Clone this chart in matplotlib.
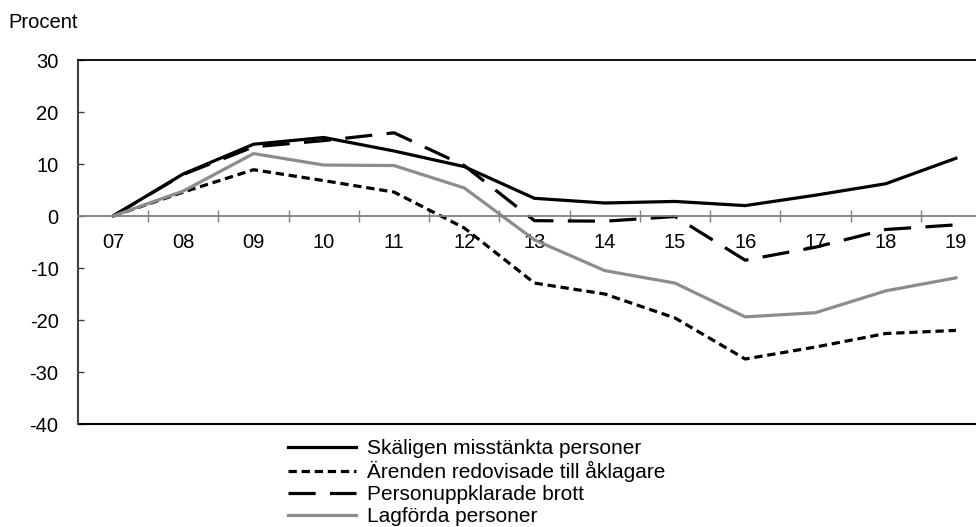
import matplotlib
matplotlib.use("Agg")
import matplotlib.pyplot as plt
import numpy as np

years = ["07", "08", "09", "10", "11", "12", "13", "14", "15", "16", "17", "18", "19"]
skaligen = [0, 8.1, 13.8, 15.1, 12.5, 9.5, 3.4, 2.5, 2.8, 2.0, 4.0, 6.2, 11.1]
arenden = [0, 4.6, 8.9, 6.8, 4.6, -2.3, -12.9, -15.0, -19.6, -27.5, -25.2, -22.6, -22.0]
personupp = [0, 8.0, 13.3, 14.5, 16.0, 9.7, -0.9, -1.0, -0.1, -8.5, -6.0, -2.6, -1.7]
lagforda = [0, 4.8, 12.0, 9.8, 9.7, 5.4, -4.6, -10.5, -12.9, -19.4, -18.6, -14.4, -11.9]
labels = ["Skäligen misstänkta personer", "Ärenden redovisade till åklagare",
          "Personuppklarade brott", "Lagförda personer"]
yticks = [-40, -30, -20, -10, 0, 10, 20, 30]

plt.rcParams['font.family'] = ['Liberation Sans', 'DejaVu Sans']
FS = 14.5
W, H = 976, 527
fig = plt.figure(figsize=(W / 100, H / 100), dpi=100)
left, right, top, bottom = 78, 991, 60, 424
ax = fig.add_axes([left / W, (H - bottom) / H, (right - left) / W, (bottom - top) / H])

x = np.arange(len(years))
lw = 2.3
ax.plot(x, skaligen, color="black", lw=lw, label=labels[0])
ax.plot(x, arenden, color="black", lw=lw, dashes=(2.6, 1.5), label=labels[1])
ax.plot(x, personupp, color="black", lw=lw, dashes=(8.5, 4.5), label=labels[2])
ax.plot(x, lagforda, color="#8c8c8c", lw=lw, label=labels[3])

ax.set_xlim(-0.5, len(years) - 0.5)
ax.set_ylim(-40, 30)
ax.set_yticks(yticks)
ax.set_yticklabels([str(v) for v in yticks])

# x axis at zero
ax.spines['bottom'].set_position(('data', 0))
ax.spines['bottom'].set_color("#808080")
ax.spines['bottom'].set_linewidth(1.3)
ax.set_xticks(x)
ax.set_xticklabels(years)
ax.set_xticks(np.arange(0.5, len(years) - 0.5, 1.0), minor=True)
ax.tick_params(axis='x', which='major', length=0, pad=12, labelsize=FS)
ax.tick_params(axis='x', which='minor', direction='inout', length=9, width=1, color="#808080")
ax.tick_params(axis='y', direction='in', length=4.5, width=1, pad=14, labelsize=FS, color="#404040")
ax.spines['left'].set_color("#404040")
ax.spines['left'].set_linewidth(1.5)
ax.spines['top'].set_linewidth(1.3)
ax.spines['right'].set_linewidth(1.3)
ax.axhline(-40, color="black", lw=1.5, clip_on=False)

fig.text(8 / W, 1 - 23 / H, "Procent", fontsize=FS, va="center", ha="left")

fig.legend(loc="upper left", bbox_to_anchor=(288 / W, 1 - 439 / H), frameon=False,
           fontsize=15, handlelength=3.25, handletextpad=0.55, labelspacing=0.14,
           borderaxespad=0, borderpad=0)

fig.savefig("out.png", dpi=100)
